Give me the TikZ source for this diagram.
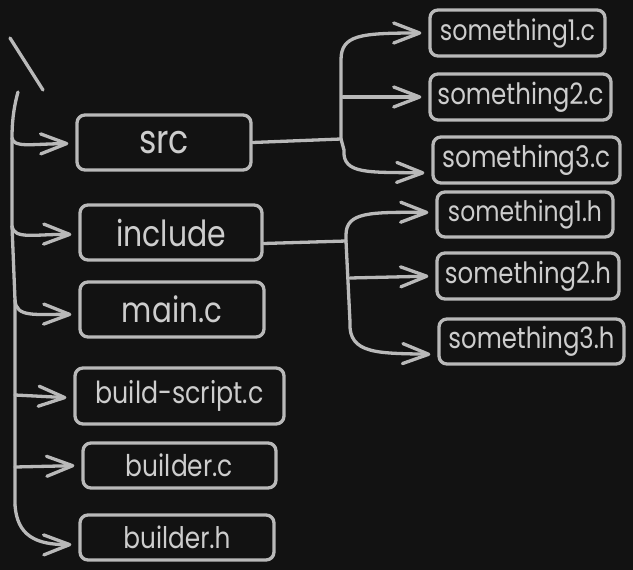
\documentclass[tikz,border=0pt]{standalone}
\usepackage{fontspec}
\setmainfont{Poppins}
\usetikzlibrary{arrows.meta}
\definecolor{bg}{RGB}{18,18,18}
\definecolor{ink}{RGB}{185,185,185}
\definecolor{txt}{RGB}{205,205,205}
\newcommand{\tw}[2]{\resizebox{#1pt}{!}{\scalebox{1}[1.2]{#2}}}
\tikzset{
  box/.style={draw=ink, line width=3.3pt, rounded corners=8pt, inner sep=0pt, text=txt, anchor=center},
  conn/.style={draw=ink, line width=3.3pt, line cap=round, line join=round},
  arr/.style={conn, -{Straight Barb[length=26pt, width=20pt, line width=3.3pt, round]}, shorten >=7pt},
}
\begin{document}
\begin{tikzpicture}[x=1pt, y=-1pt]
\fill[bg] (0,0) rectangle (633,570);
\useasboundingbox (0,0) rectangle (633,570);

% root mark
\draw[conn] (10,38) -- (43,90);

% left column boxes
\node[box, minimum width=174pt, minimum height=55pt] (src) at (164,142.5) {\tw{50}{src}};
\node[box, minimum width=182pt, minimum height=55pt] (inc) at (171,232.5) {\tw{110}{include}};
\node[box, minimum width=184pt, minimum height=55pt] (mainc) at (172,309.5) {\tw{100}{main.c}};
\node[box, minimum width=209pt, minimum height=56pt] (bscript) at (179.5,396) {\tw{168}{build-script.c}};
\node[box, minimum width=193pt, minimum height=45pt] (bc) at (179.5,465.5) {\tw{107}{builder.c}};
\node[box, minimum width=194pt, minimum height=45pt] (bh) at (177,537.5) {\tw{107}{builder.h}};

% right column boxes
\node[box, minimum width=175pt, minimum height=46pt] (s1c) at (517.5,33) {\tw{155}{something1.c}};
\node[box, minimum width=181pt, minimum height=46pt] (s2c) at (520.5,97) {\tw{166}{something2.c}};
\node[box, minimum width=187pt, minimum height=46pt] (s3c) at (526.5,160) {\tw{168}{something3.c}};
\node[box, minimum width=176pt, minimum height=45pt] (s1h) at (525,214.5) {\tw{154}{something1.h}};
\node[box, minimum width=182pt, minimum height=46pt] (s2h) at (528,276) {\tw{166}{something2.h}};
\node[box, minimum width=185pt, minimum height=45pt] (s3h) at (531.5,341.5) {\tw{166}{something3.h}};

% trunk coordinates
\coordinate (t0) at (18,92);
\coordinate (t1) at (12,138);
\coordinate (t2) at (12,226);
\coordinate (t3) at (15,300);
\coordinate (t4) at (15,395);
\coordinate (t5) at (15,467);
\coordinate (t6) at (15,505);

% trunk
\draw[conn] (t0) .. controls (13,110) and (12,125) .. (t1) -- (t2) -- (t3) -- (t4) -- (t5) -- (t6);
\draw[arr] (t6) .. controls (17,535) and (35,545) .. ([yshift=-7pt]bh.west);

% branches
\draw[arr] (t1) .. controls (14,148) and (30,144) .. ([yshift=-1pt]src.west);
\draw[arr] (t2) .. controls (14,240) and (35,234) .. ([yshift=-2pt]inc.west);
\draw[arr] (t3) .. controls (16,318) and (35,314) .. ([yshift=-5pt]mainc.west);
\draw[arr] (t4) -- ([yshift=-2pt]bscript.west);
\draw[arr] (t5) -- (bc.west);

% src fan-out
\coordinate (sj) at (341,139);
\coordinate (sj2) at (343,97);
\coordinate (sj3) at (344,150);
\draw[conn] (src.east) -- (sj);
\draw[arr] (sj) -- (341,60) .. controls (341,35) and (360,33) .. (s1c.west);
\draw[arr] (sj2) -- (s2c.west);
\draw[arr] (sj) -- (sj3) .. controls (342,175) and (370,172) .. ([yshift=-13pt]s3c.west);

% include fan-out
\coordinate (ij) at (346,241);
\coordinate (ij2) at (350,278);
\coordinate (ij3) at (350,322);
\draw[conn] ([yshift=-11pt]inc.east) -- (ij);
\draw[arr] (ij) -- (346,235) .. controls (346,212) and (370,212) .. ([yshift=2pt]s1h.west);
\draw[arr] (ij2) -- (s2h.west);
\draw[arr] (ij) -- (ij3) .. controls (348,355) and (380,353) .. ([yshift=-13pt]s3h.west);
\end{tikzpicture}
\end{document}
